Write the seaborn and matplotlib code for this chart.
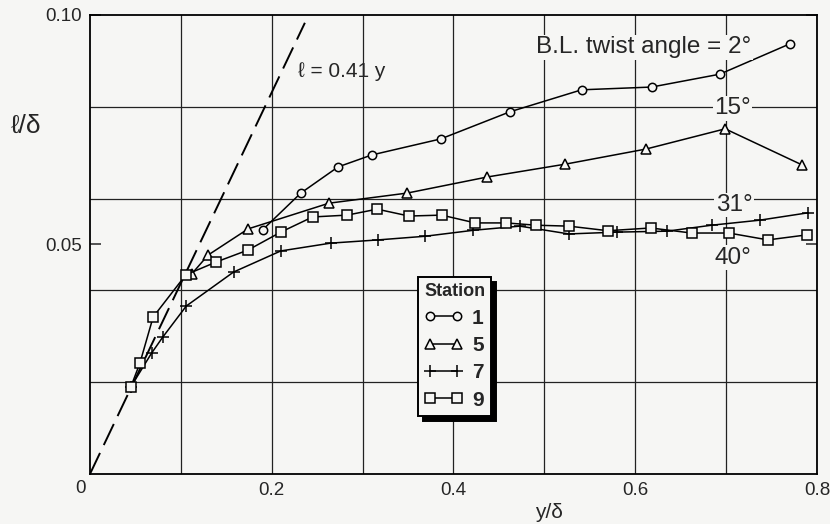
import numpy as np
import pandas as pd
import matplotlib
matplotlib.use("Agg")
import matplotlib.pyplot as plt
import seaborn as sns

# mixing length profiles
x1 = [0.190, 0.232, 0.273, 0.310, 0.386, 0.462, 0.541, 0.618, 0.693, 0.770]
y1 = [0.0532, 0.0612, 0.0669, 0.0695, 0.0730, 0.0789, 0.0837, 0.0843, 0.0871, 0.0937]

x5 = [0.112, 0.130, 0.174, 0.263, 0.349, 0.437, 0.523, 0.612, 0.699, 0.784]
y5 = [0.0436, 0.0477, 0.0534, 0.0590, 0.0612, 0.0647, 0.0675, 0.0708, 0.0752, 0.0673]

x7 = [0.045, 0.068, 0.080, 0.106, 0.158, 0.210, 0.265, 0.317, 0.369, 0.422,
      0.473, 0.527, 0.580, 0.635, 0.684, 0.737, 0.790]
y7 = [0.0190, 0.0264, 0.0298, 0.0366, 0.0440, 0.0486, 0.0503, 0.0510, 0.0518, 0.0531,
      0.0540, 0.0523, 0.0527, 0.0529, 0.0542, 0.0553, 0.0569]

x9 = [0.045, 0.055, 0.0695, 0.1055, 0.139, 0.174, 0.210, 0.245, 0.283, 0.316, 0.351,
      0.387, 0.424, 0.458, 0.491, 0.527, 0.570, 0.617, 0.662, 0.703, 0.746, 0.789]
y9 = [0.0190, 0.0242, 0.0342, 0.0434, 0.0462, 0.0488, 0.0527, 0.0560, 0.0564, 0.0577, 0.0562,
      0.0564, 0.0547, 0.0547, 0.0542, 0.0540, 0.0530, 0.0536, 0.0525, 0.0525, 0.0510, 0.0521]

# l = 0.41 y reference line (end points)
dash_x = [0.0, 0.2365]
dash_y = [0.0, 0.0983]

stations = ["1", "5", "7", "9"]
markers = {"1": "o", "5": "^", "7": "+", "9": "s"}
msizes = {"1": 6, "5": 6.5, "7": 8, "9": 6.5}

bg = "#f6f6f4"
sns.set_style("white")
plt.rcParams["font.family"] = ["Liberation Sans", "DejaVu Sans"]

fig = plt.figure(figsize=(8.3, 5.24), dpi=100, facecolor=bg)
ax = fig.add_axes([0.1084, 0.0954, 0.8759, 0.8760], facecolor=bg)

ax.plot(dash_x, dash_y, color="k", lw=1.4, dashes=(12, 4.5))

for st, xs, ys in zip(stations, [x1, x5, x7, x9], [y1, y5, y7, y9]):
    sns.lineplot(x=xs, y=ys, ax=ax, color="k", linewidth=1.1, marker=markers[st],
                 markersize=msizes[st], markerfacecolor=bg, markeredgecolor="k",
                 markeredgewidth=1.1, estimator=None, sort=False, label=st)

ax.set_xlim(0, 0.8)
ax.set_ylim(0, 0.10)

# labelled ticks
ax.set_xticks([0.2, 0.4, 0.6, 0.8])
ax.set_xticklabels(["0.2", "0.4", "0.6", "0.8"])
ax.set_yticks([0.05, 0.10])
ax.set_yticklabels(["0.05", "0.10"])
ax.set_xticks([0.1, 0.3, 0.5, 0.7], minor=True)
ax.set_yticks([0.02, 0.04, 0.06, 0.08], minor=True)
ax.tick_params(axis="x", which="both", length=0, pad=6, labelsize=13.5)
ax.tick_params(axis="y", which="major", direction="in", length=8, width=1.1,
               left=True, right=True, pad=6, labelsize=13.5)
ax.tick_params(axis="y", which="minor", length=0)
ax.grid(False)
ax.grid(True, axis="x", which="both", color="#222222", lw=0.9)
ax.grid(True, axis="y", which="minor", color="#222222", lw=0.9)
for s in ax.spines.values():
    s.set_color("k")
    s.set_linewidth(1.3)

ax.annotate("0", xy=(0, 0), xytext=(-9, -14), textcoords="offset pixels",
            ha="center", va="center", fontsize=13.5)

ax.set_xlabel("")
ax.set_ylabel("")
fig.text(549 / 830, 1 - 513 / 524, "y/δ", ha="center", va="center", fontsize=15)
fig.text(26 / 830, 1 - 126 / 524, "ℓ/δ", ha="center", va="center", fontsize=19)

ax.text(0.229, 0.0876, "ℓ = 0.41 y", ha="left", va="center", fontsize=15)

lab_box = dict(facecolor=bg, edgecolor="none", pad=1)
ax.text(0.728, 0.0930, "B.L. twist angle = 2°", ha="right", va="center",
        fontsize=17.5, bbox=lab_box)
ax.text(0.707, 0.0797, "15°", ha="center", va="center", fontsize=17.5, bbox=lab_box)
ax.text(0.709, 0.0586, "31°", ha="center", va="center", fontsize=17.5, bbox=lab_box)
ax.text(0.707, 0.0471, "40°", ha="center", va="center", fontsize=17.5, bbox=lab_box)

leg_font = {"weight": "bold", "size": 15}
title_font = {"weight": "bold", "size": 13}
leg = ax.legend(loc="upper left", bbox_to_anchor=(0.451, 0.429), borderaxespad=0,
                title="Station", prop=leg_font, title_fontproperties=title_font,
                alignment="left", numpoints=2, handlelength=1.9, handletextpad=0.4,
                labelspacing=0.4, borderpad=0.3, fancybox=False, framealpha=1,
                facecolor=bg, edgecolor="k",
                shadow={"ox": 3.5, "oy": -3.5, "facecolor": "k", "edgecolor": "k", "alpha": 1})
leg.get_frame().set_linewidth(1.4)

fig.savefig("out.png", dpi=100, facecolor=bg)
